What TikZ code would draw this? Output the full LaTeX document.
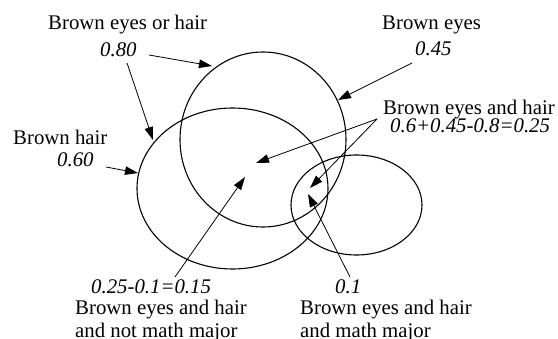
\documentclass[tikz,border=0pt]{standalone}
\usepackage{fontspec}
\setmainfont{Liberation Serif}
\usetikzlibrary{arrows.meta}
\tikzset{
  lbl/.style={anchor=base west, inner sep=0pt, font=\fontsize{20.8}{23}\selectfont},
  num/.style={lbl, font=\fontsize{20.8}{23}\selectfont\itshape},
  region/.style={line width=1.1pt},
  pointer/.style={line width=0.8pt, -{Triangle[length=13pt, width=8.5pt]}},
}

\begin{document}
\begin{tikzpicture}[x=1pt, y=-1pt]
  \useasboundingbox (0,0) rectangle (558,339);
  % sets
  \draw[region] (263,139.5) ellipse (83 and 87.5);
  \draw[region] (232.5,188.5) ellipse (95.5 and 80.5);
  \draw[region] (356.5,205) ellipse (65.5 and 50);
  % labels
  \node[lbl] (orlbl) at (48,30) {Brown eyes or hair};
  \node[num] (ornum) at (100,57) {0.80};
  \node[lbl] (eyelbl) at (382,30) {Brown eyes};
  \node[num] (eyenum) at (415,56) {0.45};
  \node[lbl] (andlbl) at (383,115) {Brown eyes and hair};
  \node[num] (andnum) at (390,133) {0.6+0.45-0.8=0.25};
  \node[lbl] (hairlbl) at (13,145) {Brown hair};
  \node[num] (hairnum) at (57,167) {0.60};
  \node[num] (notnum) at (91,294) {0.25-0.1=0.15};
  \node[lbl] (notlbl) at (75,315) {Brown eyes and hair};
  \node[lbl] (notlbl2) at (75,338) {and not math major};
  \node[num] (mathnum) at (335,294) {0.1};
  \node[lbl] (mathlbl) at (300,315) {Brown eyes and hair};
  \node[lbl] (mathlbl2) at (300,338) {and math major};
  % arrow ends
  \coordinate (ortail1) at (149,55);
  \coordinate (ortip1) at (212,66);
  \coordinate (ortail2) at (127,63);
  \coordinate (ortip2) at (153,140);
  \coordinate (hairtail) at (106,167);
  \coordinate (hairtip) at (138,173);
  \coordinate (eyetail) at (412,63);
  \coordinate (eyetip) at (338,100);
  \coordinate (andtail) at (377,119);
  \coordinate (andtip1) at (256,163);
  \coordinate (andtip2) at (310,188);
  \coordinate (nottail) at (175,277);
  \coordinate (nottip) at (245,177);
  \coordinate (mathtail) at (350,277);
  \coordinate (mathtip) at (308,194);
  % arrows
  \draw[pointer] (ortail1) -- (ortip1);
  \draw[pointer] (ortail2) -- (ortip2);
  \draw[pointer] (hairtail) -- (hairtip);
  \draw[pointer] (eyetail) -- (eyetip);
  \draw[pointer] (andtail) -- (andtip1);
  \draw[pointer] (andtail) -- (andtip2);
  \draw[pointer] (nottail) -- (nottip);
  \draw[pointer] (mathtail) -- (mathtip);
\end{tikzpicture}
\end{document}
